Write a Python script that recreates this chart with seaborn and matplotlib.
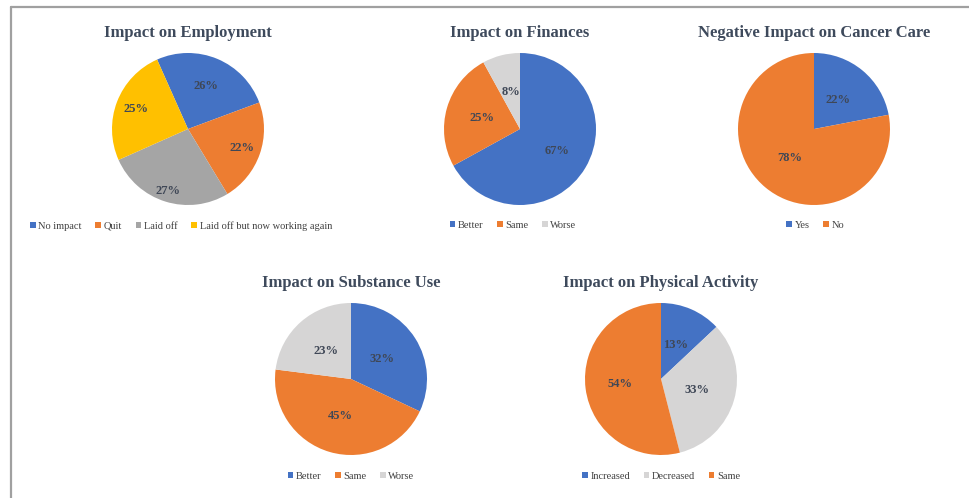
import matplotlib
matplotlib.use("Agg")
import matplotlib.pyplot as plt
from matplotlib.patches import Patch
import seaborn as sns
import numpy as np

sns.set_theme(style="white")
plt.rcParams['font.family'] = ['Liberation Serif', 'DejaVu Serif']

# ---- data ----
emp_labels = ["No impact", "Quit", "Laid off", "Laid off but now working again"]
emp_values = [26, 22, 27, 25]
fin_labels = ["Better", "Same", "Worse"]
fin_values = [67, 25, 8]
care_labels = ["Yes", "No"]
care_values = [22, 78]
sub_labels = ["Better", "Same", "Worse"]
sub_values = [32, 45, 23]
phys_labels = ["Increased", "Decreased", "Same"]
phys_values = [13, 33, 54]

BLUE, ORANGE, GRAY, YELLOW, LGRAY = "#4472C4", "#ED7D31", "#A5A5A5", "#FFC000", "#D6D5D5"
palette = sns.color_palette([BLUE, ORANGE, GRAY, YELLOW, LGRAY])
TITLE_C = "#3E4A5C"
LABEL_C = "#3F4756"
LEG_C = "#404040"

W, H = 970, 498
fig = plt.figure(figsize=(W / 100, H / 100), dpi=100)

# frame (left and top lines)
fig.add_artist(plt.Line2D([11.5 / W, 11.5 / W], [0, 1 - 7 / H], color="#A0A0A0", lw=1.6, transform=fig.transFigure))
fig.add_artist(plt.Line2D([11.5 / W, 1], [1 - 7 / H, 1 - 7 / H], color="#A0A0A0", lw=1.6, transform=fig.transFigure))

R = 76

charts = [
    dict(title="Impact on Employment", labels=emp_labels, values=emp_values,
         colors=[BLUE, ORANGE, GRAY, YELLOW], start=114, cx=188, cy=129,
         ty=32, ly=226, lx=181, ldist=[0.62, 0.75, 0.86, 0.73]),
    dict(title="Impact on Finances", labels=fin_labels, values=fin_values,
         colors=[BLUE, ORANGE, LGRAY], start=90, cx=520, cy=129,
         ty=32, ly=225, lx=513, ldist=[0.56, 0.52, 0.5]),
    dict(title="Negative Impact on Cancer Care", labels=care_labels, values=care_values,
         colors=[BLUE, ORANGE], start=90, cx=814, cy=129,
         ty=32, ly=225, lx=815, ldist=[0.49, 0.5]),
    dict(title="Impact on Substance Use", labels=sub_labels, values=sub_values,
         colors=[BLUE, ORANGE, LGRAY], start=90, cx=351, cy=379,
         ty=282, ly=476, lx=351, ldist=[0.49, 0.51, 0.49]),
    dict(title="Impact on Physical Activity", labels=phys_labels, values=phys_values,
         colors=[BLUE, LGRAY, ORANGE], start=90, cx=661, cy=379,
         ty=282, ly=476, lx=661, ldist=[0.49, 0.5, 0.55]),
]

for c in charts:
    ax = fig.add_axes([(c["cx"] - R) / W, 1 - (c["cy"] + R) / H, 2 * R / W, 2 * R / H])
    wedges, _ = ax.pie(c["values"], colors=c["colors"], startangle=c["start"],
                       counterclock=False, radius=1.0,
                       wedgeprops=dict(linewidth=0))
    ax.set_xlim(-1, 1)
    ax.set_ylim(-1, 1)
    ax.set_aspect("equal")
    ax.axis("off")
    for w, v, d in zip(wedges, c["values"], c["ldist"]):
        ang = np.deg2rad((w.theta1 + w.theta2) / 2)
        ax.text(d * np.cos(ang), d * np.sin(ang), f"{v}%", ha="center", va="center",
                fontsize=9, fontweight="bold", color=LABEL_C)
    fig.text(c["cx"] / W, 1 - (c["ty"] + 1) / H, c["title"], ha="center", va="center",
             fontsize=12, fontweight="bold", color=TITLE_C)
    handles = [Patch(facecolor=col, edgecolor="none") for col in c["colors"]]
    fig.legend(handles, c["labels"], loc="center", bbox_to_anchor=(c["lx"] / W, 1 - c["ly"] / H),
               ncol=len(c["labels"]), frameon=False, fontsize=7.5, labelcolor=LEG_C,
               handlelength=0.55, handleheight=0.55, handletextpad=0.25,
               columnspacing=1.3, borderaxespad=0, borderpad=0)

fig.savefig("out.png", dpi=100, facecolor="white")
